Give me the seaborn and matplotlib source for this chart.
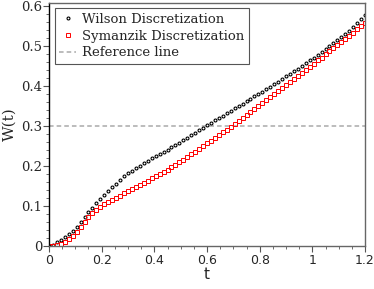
import numpy as np
import pandas as pd
import seaborn as sns
import matplotlib.pyplot as plt
from matplotlib.ticker import MultipleLocator, FuncFormatter

# flow time grid
t_values = [
    0.0, 0.015, 0.03, 0.045, 0.06, 0.075, 0.09, 0.105, 0.12, 0.135,
    0.15, 0.165, 0.18, 0.195, 0.21, 0.225, 0.24, 0.255, 0.27, 0.285,
    0.3, 0.315, 0.33, 0.345, 0.36, 0.375, 0.39, 0.405, 0.42, 0.435,
    0.45, 0.465, 0.48, 0.495, 0.51, 0.525, 0.54, 0.555, 0.57, 0.585,
    0.6, 0.615, 0.63, 0.645, 0.66, 0.675, 0.69, 0.705, 0.72, 0.735,
    0.75, 0.765, 0.78, 0.795, 0.81, 0.825, 0.84, 0.855, 0.87, 0.885,
    0.9, 0.915, 0.93, 0.945, 0.96, 0.975, 0.99, 1.005, 1.02, 1.035,
    1.05, 1.065, 1.08, 1.095, 1.11, 1.125, 1.14, 1.155, 1.17, 1.185,
    1.2,
]

wilson = [
    0.0, 0.003, 0.009, 0.016, 0.023, 0.030, 0.038, 0.048, 0.060, 0.072,
    0.084, 0.096, 0.107, 0.118, 0.128, 0.137, 0.147, 0.156, 0.166, 0.174,
    0.182, 0.188, 0.194, 0.200, 0.207, 0.213, 0.219, 0.225, 0.230, 0.236,
    0.241, 0.247, 0.252, 0.258, 0.264, 0.270, 0.277, 0.283, 0.290, 0.296,
    0.302, 0.308, 0.314, 0.320, 0.326, 0.332, 0.338, 0.344, 0.350, 0.356,
    0.362, 0.368, 0.374, 0.380, 0.386, 0.392, 0.398, 0.405, 0.411, 0.417,
    0.424, 0.430, 0.437, 0.443, 0.450, 0.457, 0.464, 0.471, 0.478, 0.485,
    0.492, 0.499, 0.507, 0.514, 0.522, 0.530, 0.538, 0.546, 0.558, 0.567,
    0.577,
]

symanzik = [
    0.0, 0.0, 0.002, 0.006, 0.011, 0.018, 0.026, 0.036, 0.047, 0.060,
    0.072, 0.083, 0.091, 0.098, 0.104, 0.109, 0.114, 0.120, 0.126, 0.132,
    0.137, 0.142, 0.147, 0.152, 0.158, 0.163, 0.169, 0.174, 0.180, 0.185,
    0.191, 0.197, 0.203, 0.209, 0.216, 0.222, 0.229, 0.236, 0.243, 0.250,
    0.257, 0.263, 0.270, 0.277, 0.284, 0.291, 0.298, 0.306, 0.313, 0.321,
    0.328, 0.336, 0.343, 0.351, 0.358, 0.366, 0.373, 0.381, 0.388, 0.396,
    0.403, 0.411, 0.418, 0.426, 0.433, 0.441, 0.448, 0.456, 0.464, 0.471,
    0.479, 0.487, 0.494, 0.502, 0.510, 0.518, 0.525, 0.533, 0.541, 0.549,
    0.557,
]

reference_level = 0.3

df = pd.DataFrame({'t': t_values, 'wilson': wilson, 'symanzik': symanzik})

sns.set_style('ticks')
plt.rcParams['font.family'] = ['DejaVu Serif']

fig = plt.figure(figsize=(3.74, 2.89), dpi=100)
ax = fig.add_axes([0.131, 0.149, 0.845, 0.841])

sns.lineplot(data=df, x='t', y='wilson', ax=ax, linestyle='', marker='o',
             markersize=2.1, markerfacecolor='none', markeredgecolor='black',
             markeredgewidth=0.8, color='black', label='Wilson Discretization')
sns.lineplot(data=df, x='t', y='symanzik', ax=ax, linestyle='', marker='s',
             markersize=2.8, markerfacecolor='none', markeredgecolor='red',
             markeredgewidth=0.7, color='red', label='Symanzik Discretization')
ax.axhline(reference_level, color='#aaaaaa', linestyle=(0, (3, 2)), lw=1.1,
           label='Reference line', zorder=0)

ax.set_xlim(0, 1.2)
ax.set_ylim(0, 0.6075)
ax.xaxis.set_major_locator(MultipleLocator(0.2))
ax.xaxis.set_minor_locator(MultipleLocator(0.05))
ax.yaxis.set_major_locator(MultipleLocator(0.1))
ax.yaxis.set_minor_locator(MultipleLocator(0.02))
fmt = FuncFormatter(lambda v, p: '%g' % round(v, 2))
ax.xaxis.set_major_formatter(fmt)
ax.yaxis.set_major_formatter(fmt)

ax.tick_params(which='major', direction='out', length=4, width=0.8, color='#555555')
ax.tick_params(which='minor', direction='out', length=2, width=0.6, color='#555555')
for lab in ax.get_xticklabels():
    lab.set_fontfamily('DejaVu Sans')
    lab.set_fontsize(9)
for lab in ax.get_yticklabels():
    lab.set_fontsize(9.5)
ax.tick_params(axis='x', pad=2)
ax.tick_params(axis='y', pad=1)

for side in ['top', 'right', 'bottom']:
    ax.spines[side].set_color('#666666')
    ax.spines[side].set_linewidth(1.0)
ax.spines['left'].set_color('black')
ax.spines['left'].set_linewidth(1.0)

ax.set_xlabel('t', family='DejaVu Sans', fontsize=11, labelpad=0)
ax.set_ylabel('W(t)', fontsize=11, labelpad=3)

leg = ax.legend(loc='upper left', bbox_to_anchor=(0.018, 0.978), borderaxespad=0,
                frameon=True, fancybox=False, framealpha=1, edgecolor='#555555',
                fontsize=9.5, handlelength=1.3, handletextpad=0.4,
                borderpad=0.35, labelspacing=0.28)
leg.get_frame().set_linewidth(0.8)

plt.savefig('out.png', dpi=100)
